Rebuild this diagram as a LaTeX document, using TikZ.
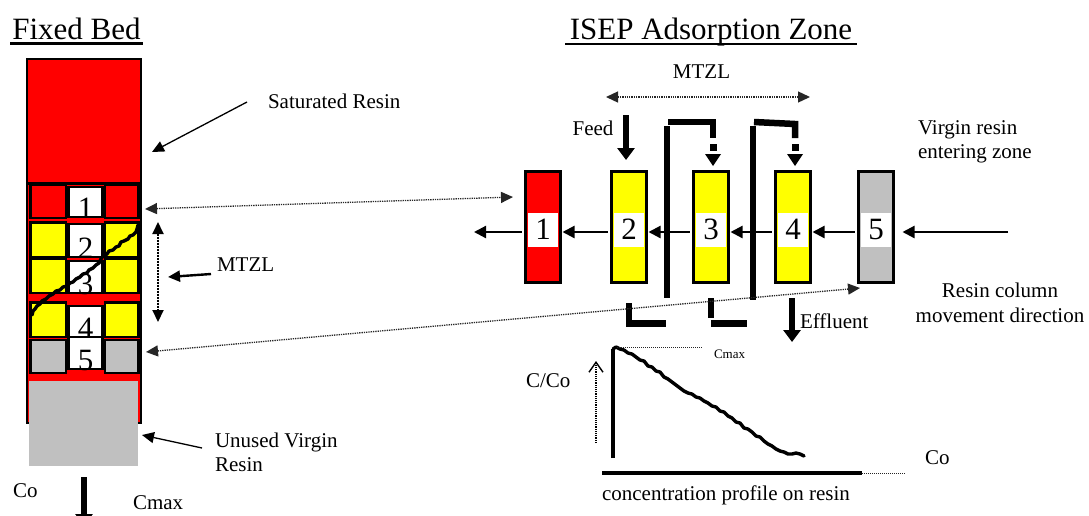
\documentclass[tikz,border=0pt]{standalone}
\usepackage{fontspec}
\setmainfont{Liberation Serif}
\usetikzlibrary{arrows.meta,calc}

\definecolor{resinred}{RGB}{255,0,0}
\definecolor{resinyel}{RGB}{255,255,0}
\definecolor{resingrey}{RGB}{192,192,192}

\tikzset{
  every node/.style={inner sep=0pt, outer sep=0pt},
  lbl/.style={font=\fontsize{21}{25}\selectfont},
  smalllbl/.style={font=\fontsize{13}{15}\selectfont},
  titletext/.style={font=\fontsize{31}{34}\selectfont},
  digit/.style={font=\fontsize{31}{31}\selectfont},
  cell/.style={draw=black, line width=2.6pt},
  numbox/.style={fill=white, draw=black, line width=2.6pt, minimum width=34pt},
  block/.style={draw=black, line width=3.4pt, minimum width=35pt, minimum height=111pt},
  blocklbl/.style={fill=white, minimum width=30pt, minimum height=34pt, font=\fontsize{31}{31}\selectfont},
  tri/.style={-{Triangle[length=12pt,width=11pt]}},
  triboth/.style={{Triangle[length=12pt,width=11pt]}-{Triangle[length=12pt,width=11pt]}},
  dots/.style={densely dotted, line width=1.3pt, draw=black!85},
  thinarr/.style={line width=1.3pt, tri},
  harr/.style={line width=2.2pt, -{Triangle[length=12pt,width=12pt]}},
  bigarr/.style={line width=5.5pt, -{Triangle[length=12pt,width=17pt]}},
  pipe/.style={line width=6.5pt},
  jag/.style={line width=3.4pt, line join=round, line cap=round},
}

\begin{document}
\begin{tikzpicture}[x=1pt,y=-1pt]
\useasboundingbox (0,0) rectangle (1089,515);

% ---------------- Fixed bed column ----------------
\node[titletext, anchor=base] (fbtitle) at (76.5,39) {Fixed Bed};
\draw[line width=2.4pt] (10,43.5) -- (143,43.5);

\draw[fill=resinred, line width=2.8pt] (27,59) rectangle (141,423);
\draw[line width=2.6pt] (27,183.5) -- (141,183.5);

\foreach \t/\b/\c in {184.5/218/resinred, 222.5/257/resinyel, 258.5/293/resinyel,
                      302.5/337/resinyel, 340/373/resingrey}{
  \draw[cell, fill=\c] (30.5,\t) rectangle (66,\b);
  \draw[cell, fill=\c] (105,\t) rectangle (138.5,\b);
}
\foreach \n/\t/\b in {1/187/217, 2/224/257, 3/261/293, 4/306/337, 5/337/369}{
  \node[numbox, minimum height={(\b-\t)*1pt}] (fb\n) at (85.5,{(\t+\b)/2}) {};
  \node[digit, anchor=base] at ([yshift=-1pt]fb\n.south) {\n};
}

% breakthrough front across the bed
\draw[jag] (138,225) -- (137,229) -- (136,232) -- (133,235) -- (130,236) -- (128,239)
  -- (124,241) -- (121,242) -- (119,246) -- (116,247) -- (113,250) -- (109,251)
  -- (107,254) -- (103,256) -- (101,259) -- (99,263) -- (96,265) -- (93,268)
  -- (89,270) -- (87,273) -- (83,274) -- (80,277) -- (76,279) -- (73,282)
  -- (70,283) -- (67,286) -- (63,287) -- (60,290) -- (56,291) -- (53,294)
  -- (49,296) -- (46,299) -- (42,301) -- (40,304) -- (37,306) -- (35,309)
  -- (33,311) -- (32,315);

% unused virgin resin below the bed
\fill[resingrey] (29,381) rectangle (138,466);

% annotations of the bed
\node[lbl, anchor=base west] (sat) at (268,108) {Saturated Resin};
\coordinate (satfrom) at (247,102);
\coordinate (satto) at (152,152);
\draw[thinarr] (satfrom) -- (satto);

\coordinate (mtzltop) at (158,222);
\coordinate (mtzlbot) at (158,322);
\draw[triboth, densely dotted, line width=2pt] (mtzltop) -- (mtzlbot);

\node[lbl, anchor=base west] (mtzlL) at (217,271) {MTZL};
\coordinate (mtzlLfrom) at (211,274);
\coordinate (mtzlLto) at (168,277);
\draw[line width=2.4pt, tri] (mtzlLfrom) -- (mtzlLto);

\node[lbl, anchor=base west] (unused1) at (215,447) {Unused Virgin};
\node[lbl, anchor=base west] (unused2) at (215,471) {Resin};
\coordinate (unusedfrom) at (202,448);
\coordinate (unusedto) at (142,435);
\draw[thinarr] (unusedfrom) -- (unusedto);

\node[lbl, anchor=base west] (coL) at (13,497) {Co};
\node[lbl, anchor=base west] (cmaxL) at (133,509) {Cmax};
\coordinate (outtop) at (84,477);
\coordinate (outbot) at (84,526);
\draw[bigarr] (outtop) -- (outbot);

% ---------------- ISEP adsorption zone ----------------
\node[titletext, anchor=base] (iseptitle) at (711,39) {ISEP Adsorption Zone};
\draw[line width=2.4pt] (565,44) -- (857,44);

\node[lbl, anchor=base] (mtzlT) at (701.5,78) {MTZL};
\coordinate (mzA) at (606,97);
\coordinate (mzB) at (810,97);
\draw[dots, triboth] (mzA) -- (mzB);

\node[block, fill=resinred]  (b1) at (543,227) {};
\node[block, fill=resinyel]  (b2) at (629,227) {};
\node[block, fill=resinyel]  (b3) at (711,227) {};
\node[block, fill=resinyel]  (b4) at (793,227) {};
\node[block, fill=resingrey] (b5) at (876,227) {};
\foreach \i in {1,...,5}{
  \node[blocklbl] (l\i) at ([yshift=-2.5pt]b\i.center) {\i};
}

% resin moves from right to left
\coordinate (isepout) at (474,232);
\coordinate (isepin) at (1008,232);
\draw[harr] ([yshift=-5pt,xshift=-4pt]b1.west) -- (isepout);
\draw[harr] ([yshift=-5pt,xshift=-4pt]b2.west) -- ([yshift=-5pt,xshift=2pt]b1.east);
\draw[harr] ([yshift=-5pt,xshift=-4pt]b3.west) -- ([yshift=-5pt,xshift=2pt]b2.east);
\draw[harr] ([yshift=-5pt,xshift=-4pt]b4.west) -- ([yshift=-5pt,xshift=2pt]b3.east);
\draw[harr] ([yshift=-5pt,xshift=-4pt]b5.west) -- ([yshift=-5pt,xshift=2pt]b4.east);
\draw[harr] (isepin) -- ([yshift=-5pt,xshift=9pt]b5.east);

% feed
\node[lbl, anchor=base] (feed) at (593,135) {Feed};
\coordinate (feedtop) at (626,115);
\coordinate (feedtip) at (626,160);
\draw[bigarr] (feedtop) -- (feedtip);

% recycle lines from column 2 to 3 and from column 3 to 4
\draw[pipe] (667,126) -- (667,298);
\draw[pipe] (668,122) -- (713,122) -- (713,138);
\fill (709.5,144) rectangle (716.5,150.5);
\fill (705,154) -- (721,154) -- (713,166) -- cycle;

\draw[pipe] (753,126) -- (753,300);
\draw[pipe] (754,122) -- (795,124) -- (795,138);
\fill (791.5,144) rectangle (798.5,150.5);
\fill (787,154) -- (803,154) -- (795,166) -- cycle;

\draw[pipe] (629,303) -- (629,323.5) -- (666,323.5);
\draw[pipe] (711,298) -- (711,318);
\draw[pipe] (711,323.5) -- (747,323.5);

% effluent
\coordinate (efftop) at (792,298);
\coordinate (efftip) at (792,342);
\draw[bigarr] (efftop) -- (efftip);
\node[lbl, anchor=base west] (eff) at (800,328) {Effluent};

% side labels
\node[lbl, anchor=base west] (virg1) at (918,134) {Virgin resin};
\node[lbl, anchor=base west] (virg2) at (918,158) {entering zone};
\node[lbl, anchor=base] (move1) at (1000,297) {Resin column};
\node[lbl, anchor=base] (move2) at (1000,322) {movement direction};

% links between the fixed bed and the zone
\coordinate (fbz1) at (145,209);
\coordinate (fbz5) at (146,352);
\coordinate (isz1) at (513,197);
\coordinate (isz5) at (860,288);
\draw[dots, triboth] (fbz1) -- (isz1);
\draw[dots, triboth] (fbz5) -- (isz5);

% ---------------- concentration profile ----------------
\draw[line width=3.8pt] (613,458) -- (613,349);
\draw[jag] (613,349) -- (616,347) -- (620,349) -- (624,350) -- (628,353) -- (632,354)
  -- (636,357) -- (640,360) -- (644,361) -- (648,366) -- (652,367) -- (656,371)
  -- (660,372) -- (664,377) -- (668,379) -- (672,382) -- (676,385) -- (680,388)
  -- (684,391) -- (688,393) -- (692,394) -- (696,397) -- (700,398) -- (704,401)
  -- (708,403) -- (712,406) -- (716,407) -- (720,411) -- (724,412) -- (728,416)
  -- (732,418) -- (736,422) -- (740,423) -- (744,428) -- (748,429) -- (752,432)
  -- (756,436) -- (760,437) -- (764,441) -- (768,444) -- (772,446) -- (776,449)
  -- (780,451) -- (784,452) -- (788,454) -- (792,454) -- (796,453) -- (800,454)
  -- (804,456);
\coordinate (cmaxA) at (617,347);
\coordinate (cmaxB) at (702,347);
\draw[dots, line width=1pt] (cmaxA) -- (cmaxB);
\node[smalllbl, anchor=base west] (cmaxS) at (714,358) {Cmax};

\coordinate (ccoBot) at (596,443);
\coordinate (ccoTop) at (596,361);
\draw[densely dotted, line width=1.2pt, -{Straight Barb[length=10pt,width=14pt,line width=1.4pt]}] (ccoBot) -- (ccoTop);
\node[lbl, anchor=base west] (cco) at (526,387) {C/Co};

\coordinate (axA) at (602,473);
\coordinate (axB) at (862,473);
\coordinate (axC) at (906,473);
\draw[line width=3.8pt] (axA) -- (axB);
\draw[dots, line width=1pt] (axB) -- (axC);
\node[lbl, anchor=base west] (coR) at (925,464) {Co};
\node[lbl, anchor=base] (conc) at (726,500) {concentration profile on resin};

\end{tikzpicture}
\end{document}
